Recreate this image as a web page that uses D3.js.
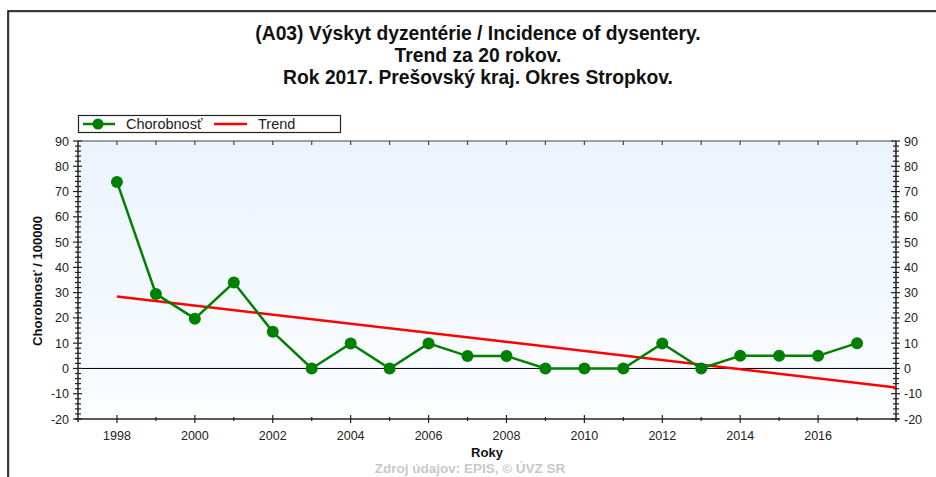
<!DOCTYPE html>
<html>
<head>
<meta charset="utf-8">
<script src="https://cdn.jsdelivr.net/npm/d3@7"></script>
<style>
  body { margin:0; background:#fff; }
  svg { display:block; font-family:"Liberation Sans", Arial, sans-serif; }
</style>
</head>
<body>
<svg id="chart"></svg>
<script>
// data
var years = [1998,1999,2000,2001,2002,2003,2004,2005,2006,2007,2008,2009,2010,2011,2012,2013,2014,2015,2016,2017];
var incidence = [73.8,29.5,19.7,34.0,14.5,0,9.9,0,9.9,4.9,4.9,0,0,0,9.9,0,5.0,5.0,5.0,10.0];
var trendYears = [1998, 2018];
var trendValues = [28.5, -7.5];
var yTicks = [90,80,70,60,50,40,30,20,10,0,-10,-20];
var xTickLabels = [1998,2000,2002,2004,2006,2008,2010,2012,2014,2016];
var titleLines = ["(A03) Výskyt dyzentérie / Incidence of dysentery.",
                  "Trend za 20 rokov.",
                  "Rok 2017. Prešovský kraj. Okres Stropkov."];

/*
	Container
 */
var container = { width:936, height:477 };
var plot = { left:78, right:896, top:141, bottom:419 };

var svg = d3.select('#chart')
	.attr('width', container.width)
	.attr('height', container.height);

// outer frame (only top and left edges visible)
svg.append('rect')
	.attr('x', 9).attr('y', 12)
	.attr('width', 960).attr('height', 500)
	.attr('fill', 'none').attr('stroke', '#aaa').attr('stroke-width', 1);
svg.append('rect')
	.attr('x', 8).attr('y', 11)
	.attr('width', 960).attr('height', 500)
	.attr('fill', 'none').attr('stroke', '#000').attr('stroke-width', 1.5);

// title
svg.append('g').selectAll('text')
	.data(titleLines).enter().append('text')
	.attr('x', 478)
	.attr('y', function(d, i){ return 40 + i * 22; })
	.attr('text-anchor', 'middle')
	.attr('font-size', 19.3)
	.attr('font-weight', 'bold')
	.attr('fill', '#111')
	.text(function(d){ return d; });

/*
	Scales
 */
var x = d3.scaleLinear().domain([1997, 2018]).range([plot.left, plot.right]);
var y = d3.scaleLinear().domain([-20, 90]).range([plot.bottom, plot.top]);

// plot background gradient
var defs = svg.append('defs');
var grad = defs.append('linearGradient').attr('id', 'bg')
	.attr('x1', 0).attr('y1', 0).attr('x2', 0).attr('y2', 1);
grad.append('stop').attr('offset', '0%').attr('stop-color', '#ebf3fd');
grad.append('stop').attr('offset', '100%').attr('stop-color', '#fbfdff');

svg.append('rect')
	.attr('x', plot.left).attr('y', plot.top)
	.attr('width', plot.right - plot.left)
	.attr('height', plot.bottom - plot.top)
	.attr('fill', 'url(#bg)');

// zero line
svg.append('line')
	.attr('x1', plot.left).attr('x2', plot.right)
	.attr('y1', y(0)).attr('y2', y(0))
	.attr('stroke', '#000').attr('stroke-width', 1);

/*
	Axes
 */
var minorY = d3.range(-20, 91, 2);
var allYears = d3.range(1997, 2019, 1);

function yAxisTicks(xPos){
	var g = svg.append('g');
	g.append('line')
		.attr('x1', xPos).attr('x2', xPos)
		.attr('y1', plot.top).attr('y2', plot.bottom + 3)
		.attr('stroke', '#222').attr('stroke-width', 1.5);
	g.selectAll('line.minor').data(minorY).enter().append('line')
		.attr('class', 'minor')
		.attr('x1', function(d){ return d % 10 === 0 ? xPos - 5 : xPos - 3; })
		.attr('x2', function(d){ return d % 10 === 0 ? xPos + 4 : xPos + 3; })
		.attr('y1', function(d){ return y(d); })
		.attr('y2', function(d){ return y(d); })
		.attr('stroke', '#222').attr('stroke-width', 1.2);
}
yAxisTicks(plot.left);
yAxisTicks(plot.right);

// y tick labels left and right
svg.append('g').selectAll('text').data(yTicks).enter().append('text')
	.attr('x', plot.left - 9)
	.attr('y', function(d){ return y(d) + 4.5; })
	.attr('text-anchor', 'end')
	.attr('font-size', 12.5).attr('fill', '#222')
	.text(function(d){ return d; });
svg.append('g').selectAll('text').data(yTicks).enter().append('text')
	.attr('x', plot.right + 8)
	.attr('y', function(d){ return y(d) + 4.5; })
	.attr('text-anchor', 'start')
	.attr('font-size', 12.5).attr('fill', '#222')
	.text(function(d){ return d; });

// bottom axis
svg.append('line')
	.attr('x1', plot.left - 3).attr('x2', plot.right + 3)
	.attr('y1', plot.bottom).attr('y2', plot.bottom)
	.attr('stroke', '#222').attr('stroke-width', 1.5);
svg.append('g').selectAll('line').data(allYears.slice(1, -1)).enter().append('line')
	.attr('x1', function(d){ return x(d); }).attr('x2', function(d){ return x(d); })
	.attr('y1', function(d){ return d % 2 === 0 ? plot.bottom - 4 : plot.bottom - 2; })
	.attr('y2', function(d){ return d % 2 === 0 ? plot.bottom + 4 : plot.bottom + 2; })
	.attr('stroke', '#222').attr('stroke-width', 1.2);

// top axis
svg.append('line')
	.attr('x1', plot.left).attr('x2', plot.right)
	.attr('y1', plot.top).attr('y2', plot.top)
	.attr('stroke', '#444').attr('stroke-width', 1.2);
svg.append('g').selectAll('line').data(allYears.slice(1, -1)).enter().append('line')
	.attr('x1', function(d){ return x(d); }).attr('x2', function(d){ return x(d); })
	.attr('y1', plot.top).attr('y2', plot.top + 4)
	.attr('stroke', '#444').attr('stroke-width', 1.2);

// x tick labels
svg.append('g').selectAll('text').data(xTickLabels).enter().append('text')
	.attr('x', function(d){ return x(d); })
	.attr('y', 440)
	.attr('text-anchor', 'middle')
	.attr('font-size', 12.5).attr('fill', '#222')
	.text(function(d){ return d; });

// axis titles
svg.append('text')
	.attr('x', 487).attr('y', 457)
	.attr('text-anchor', 'middle')
	.attr('font-size', 13).attr('font-weight', 'bold').attr('fill', '#111')
	.text('Roky');

svg.append('text')
	.attr('transform', 'translate(42,281) rotate(-90)')
	.attr('text-anchor', 'middle')
	.attr('font-size', 13).attr('font-weight', 'bold').attr('fill', '#111')
	.text('Chorobnosť / 100000');

// footer (kept inside the window)
svg.append('text')
	.attr('x', 470).attr('y', 473)
	.attr('text-anchor', 'middle')
	.attr('font-size', 13.5).attr('font-weight', 'bold').attr('fill', '#c8c8c8')
	.text('Zdroj údajov: EPIS, © ÚVZ SR');

/*
	Series
 */
var line = d3.line()
	.x(function(d){ return x(d[0]); })
	.y(function(d){ return y(d[1]); });

svg.append('path')
	.attr('d', line(d3.zip(trendYears, trendValues)))
	.attr('fill', 'none').attr('stroke', '#ff0000').attr('stroke-width', 2.5);

var pts = d3.zip(years, incidence);
svg.append('path')
	.attr('d', line(pts))
	.attr('fill', 'none').attr('stroke', '#008000').attr('stroke-width', 2.5);

svg.append('g').selectAll('circle').data(pts).enter().append('circle')
	.attr('cx', function(d){ return x(d[0]); })
	.attr('cy', function(d){ return y(d[1]); })
	.attr('r', 6)
	.attr('fill', '#008000');

/*
	Legend
 */
var lg = svg.append('g');
lg.append('rect')
	.attr('x', 78.5).attr('y', 115.5).attr('width', 262).attr('height', 17)
	.attr('fill', '#fff').attr('stroke', '#222').attr('stroke-width', 1.2);
lg.append('line')
	.attr('x1', 83).attr('x2', 115).attr('y1', 124).attr('y2', 124)
	.attr('stroke', '#008000').attr('stroke-width', 2.5);
lg.append('circle')
	.attr('cx', 98).attr('cy', 124).attr('r', 5.5).attr('fill', '#008000');
lg.append('text')
	.attr('x', 126).attr('y', 129)
	.attr('font-size', 14.5).attr('fill', '#222')
	.text('Chorobnosť');
lg.append('line')
	.attr('x1', 214).attr('x2', 247).attr('y1', 124).attr('y2', 124)
	.attr('stroke', '#ff0000').attr('stroke-width', 2.5);
lg.append('text')
	.attr('x', 258).attr('y', 129)
	.attr('font-size', 14.5).attr('fill', '#222')
	.text('Trend');
</script>
</body>
</html>
